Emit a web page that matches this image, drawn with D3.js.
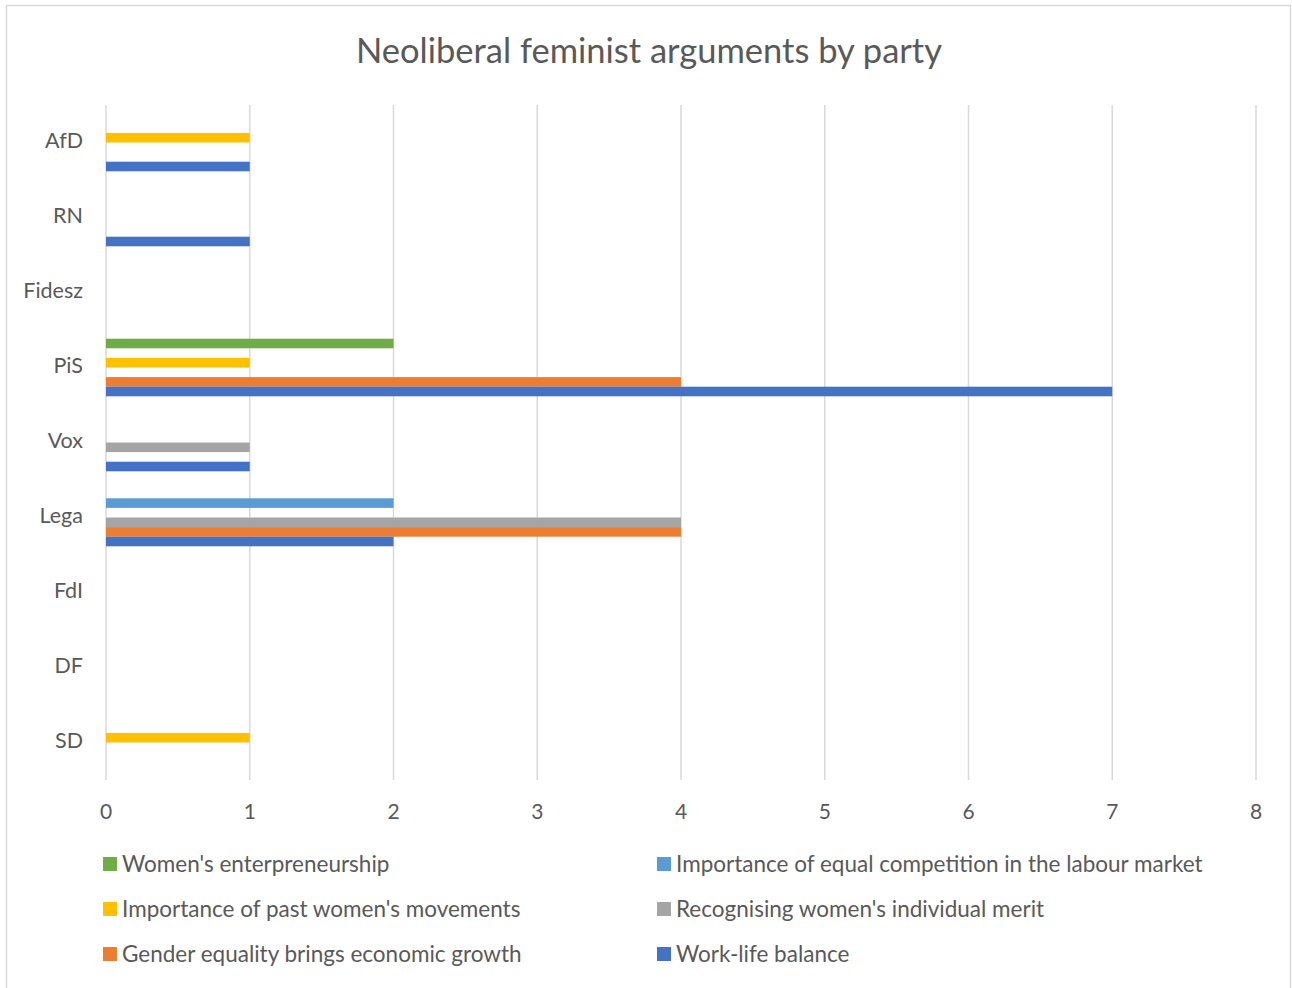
<!DOCTYPE html>
<html lang="en">
<head>
  <meta charset="UTF-8">
  <title>Neoliberal feminist arguments by party</title>
  <script src="https://d3js.org/d3.v7.min.js"></script>
  <style>
    body { margin: 0; padding: 0; background: #fff; }
    svg { display: block; font-family: 'Lato', sans-serif; }
    .lbl { fill: #595959; }
  </style>
</head>
<body>
  <svg id="chart" width="1292" height="988"></svg>
  <script>
    // parties, top to bottom
    const parties = ["AfD", "RN", "Fidesz", "PiS", "Vox", "Lega", "FdI", "DF", "SD"];

    // series values, one per party (same order as above)
    const workLife      = [1, 1, 0, 7, 1, 2, 0, 0, 0];
    const econGrowth    = [0, 0, 0, 4, 0, 4, 0, 0, 0];
    const merit         = [0, 0, 0, 0, 1, 4, 0, 0, 0];
    const pastMovements = [1, 0, 0, 1, 0, 0, 0, 0, 1];
    const equalComp     = [0, 0, 0, 0, 0, 2, 0, 0, 0];
    const enterprise    = [0, 0, 0, 2, 0, 0, 0, 0, 0];

    const xTicks = [0, 1, 2, 3, 4, 5, 6, 7, 8];

    // top of each group first
    const series = [
      { name: "Women's enterpreneurship", color: "#70AD47", values: enterprise },
      { name: "Importance of equal competition in the labour market", color: "#5B9BD5", values: equalComp },
      { name: "Importance of past women's movements", color: "#FFC000", values: pastMovements },
      { name: "Recognising women's individual merit", color: "#A5A5A5", values: merit },
      { name: "Gender equality brings economic growth", color: "#ED7D31", values: econGrowth },
      { name: "Work-life balance", color: "#4472C4", values: workLife }
    ];

    const svg = d3.select("#chart");

    // chart area border
    svg.append("rect")
      .attr("x", 6.5).attr("y", 5.5)
      .attr("width", 1284).attr("height", 990)
      .attr("fill", "#fff")
      .attr("stroke", "#d9d9d9")
      .attr("stroke-width", 1.5);

    svg.append("text")
      .attr("class", "lbl")
      .attr("x", 649).attr("y", 49)
      .attr("text-anchor", "middle")
      .attr("dominant-baseline", "central")
      .attr("font-size", 34.5)
      .text("Neoliberal feminist arguments by party");

    const plotTop = 105, plotBottom = 780;

    const x = d3.scaleLinear().domain([0, 8]).range([106, 1256]);

    const y = d3.scaleBand()
      .domain(parties)
      .range([plotTop, plotBottom])
      .paddingInner(0.232)
      .paddingOuter(0.116);

    const y1 = d3.scaleBand()
      .domain(series.map(s => s.name))
      .range([0, y.bandwidth()]);

    // gridlines
    svg.append("g")
      .selectAll("line")
      .data(xTicks)
      .join("line")
      .attr("x1", d => x(d)).attr("x2", d => x(d))
      .attr("y1", plotTop).attr("y2", plotBottom)
      .attr("stroke", "#d9d9d9")
      .attr("stroke-width", 1.5);

    // bars
    const groups = svg.append("g")
      .selectAll("g")
      .data(parties)
      .join("g")
      .attr("transform", d => `translate(0,${y(d)})`);

    groups.selectAll("rect")
      .data((p, i) => series.map(s => ({ name: s.name, color: s.color, value: s.values[i] })).filter(d => d.value > 0))
      .join("rect")
      .attr("x", x(0))
      .attr("y", d => y1(d.name))
      .attr("width", d => x(d.value) - x(0))
      .attr("height", y1.bandwidth())
      .attr("fill", d => d.color);

    // category labels
    svg.append("g")
      .selectAll("text")
      .data(parties)
      .join("text")
      .attr("class", "lbl")
      .attr("x", 83)
      .attr("y", d => y(d) + y.bandwidth() / 2 - 2.5)
      .attr("text-anchor", "end")
      .attr("dominant-baseline", "central")
      .attr("font-size", 21.5)
      .text(d => d);

    // x tick labels
    svg.append("g")
      .selectAll("text")
      .data(xTicks)
      .join("text")
      .attr("class", "lbl")
      .attr("x", d => x(d))
      .attr("y", 810.5)
      .attr("text-anchor", "middle")
      .attr("dominant-baseline", "central")
      .attr("font-size", 21)
      .text(d => d);

    // legend, two columns
    const legendCols = [103, 657];
    const legendRows = [864, 909, 954];

    const legend = svg.append("g")
      .selectAll("g")
      .data(series)
      .join("g")
      .attr("transform", (d, i) => `translate(${legendCols[i % 2]},${legendRows[Math.floor(i / 2)]})`);

    legend.append("rect")
      .attr("x", 0).attr("y", -7)
      .attr("width", 14).attr("height", 14)
      .attr("fill", d => d.color);

    legend.append("text")
      .attr("class", "lbl")
      .attr("x", 19)
      .attr("y", -0.5)
      .attr("dominant-baseline", "central")
      .attr("font-size", 22.5)
      .text(d => d.name);
  </script>
</body>
</html>
